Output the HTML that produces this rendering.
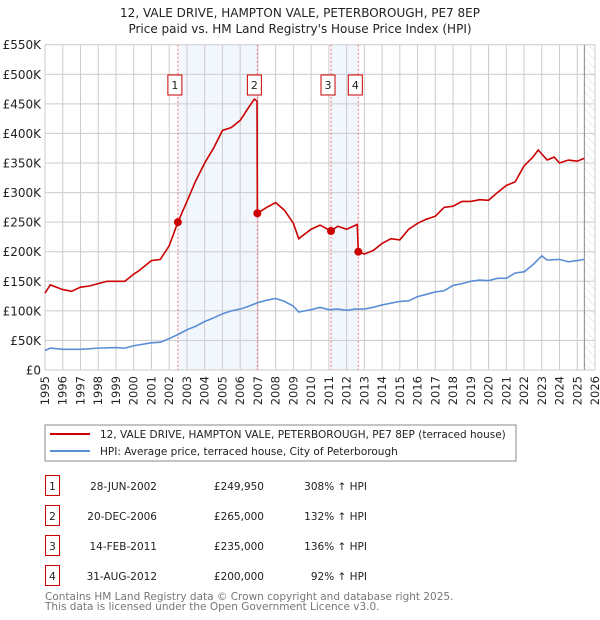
<!DOCTYPE html>
<html><head><meta charset="utf-8"><style>
body{margin:0;background:#fff;}
svg{display:block;font-family:"DejaVu Sans","Liberation Sans",sans-serif;}
</style></head><body>
<svg id="c" width="600" height="620" viewBox="0 0 600 620">
<defs><pattern id="hatch" width="6" height="6" patternUnits="userSpaceOnUse" patternTransform="rotate(-45)"><line x1="0" y1="0" x2="0" y2="6" stroke="#ccc" stroke-width="0.7"/></pattern></defs>
<text x="300" y="17" text-anchor="middle" font-size="12" fill="#222">12, VALE DRIVE, HAMPTON VALE, PETERBOROUGH, PE7 8EP</text>
<text x="300" y="33" text-anchor="middle" font-size="12" fill="#222">Price paid vs. HM Land Registry's House Price Index (HPI)</text>
<g id="plot"></g>
<rect x="45" y="425" width="471" height="36" fill="#fff" stroke="#888"/>
<line x1="50" y1="434" x2="90" y2="434" stroke="#cc0000" stroke-width="2"/>
<text x="100" y="438" font-size="10.5" fill="#222">12, VALE DRIVE, HAMPTON VALE, PETERBOROUGH, PE7 8EP (terraced house)</text>
<line x1="50" y1="451" x2="90" y2="451" stroke="#5b8fd4" stroke-width="2"/>
<text x="100" y="455" font-size="10.5" fill="#222">HPI: Average price, terraced house, City of Peterborough</text>
<g id="table"></g>
<text x="45" y="600" font-size="10.5" fill="#777">Contains HM Land Registry data © Crown copyright and database right 2025.</text>
<text x="45" y="610" font-size="10.5" fill="#777">This data is licensed under the Open Government Licence v3.0.</text>
</svg>
<script>
const hpiYears=[1995,1995.3,1996,1997,1998,1999,1999.5,2000,2001,2001.5,2002,2002.5,2003,2003.5,2004,2004.5,2005,2005.5,2006,2006.5,2007,2007.5,2008,2008.5,2009,2009.3,2010,2010.5,2011,2011.5,2012,2012.5,2013,2013.5,2014,2015,2015.5,2016,2016.5,2017,2017.5,2018,2018.5,2019,2019.5,2020,2020.5,2021,2021.5,2022,2022.5,2023,2023.3,2024,2024.5,2025,2025.4];
const hpiValues=[33,37,35,35,37,38,37,41,46,47,53,60,68,74,82,88,95,100,103,108,114,118,121,116,108,98,102,106,102,103,101,103,103,106,110,116,117,124,128,132,134,143,146,150,152,151,155,155,164,166,178,193,186,187,183,185,187];
const redYears=[1995,1995.3,1996,1996.5,1997,1997.5,1998,1998.5,1999,1999.5,2000,2000.3,2001,2001.5,2002,2002.49,2003,2003.5,2004,2004.5,2005,2005.5,2006,2006.5,2006.8,2006.95,2006.97,2007.5,2008,2008.5,2009,2009.3,2010,2010.5,2011.12,2011.5,2012,2012.6,2012.66,2013,2013.5,2014,2014.5,2015,2015.5,2016,2016.5,2017,2017.5,2018,2018.5,2019,2019.5,2020,2020.5,2021,2021.5,2022,2022.5,2022.8,2023.3,2023.7,2024,2024.5,2025,2025.4];
const redValues=[130,144,136,133,140,142,146,150,150,150,162,168,185,187,210,250,285,320,350,375,405,410,422,445,458,455,265,275,283,270,248,222,238,245,235,243,238,246,200,196,202,214,222,220,238,248,255,260,275,277,285,285,288,287,300,312,318,345,360,372,355,360,350,355,353,358];
const saleYears=[2002.49,2006.97,2011.12,2012.66];
const saleValues=[249.95,265,235,200];
const saleLabels=["1","2","3","4"];
const saleDates=["28-JUN-2002","20-DEC-2006","14-FEB-2011","31-AUG-2012"];
const salePrices=["£249,950","£265,000","£235,000","£200,000"];
const saleHpi=["308% ↑ HPI","132% ↑ HPI","136% ↑ HPI","92% ↑ HPI"];
const yTicks=[0,50,100,150,200,250,300,350,400,450,500,550];
const yTickLabels=["£0","£50K","£100K","£150K","£200K","£250K","£300K","£350K","£400K","£450K","£500K","£550K"];
const xTicks=[1995,1996,1997,1998,1999,2000,2001,2002,2003,2004,2005,2006,2007,2008,2009,2010,2011,2012,2013,2014,2015,2016,2017,2018,2019,2020,2021,2022,2023,2024,2025,2026];
const dataEnd=2025.4;

const L=45,R=595,T=44.7,B=370;
const X=v=>L+(v-1995)/31*(R-L);
const Y=v=>B-v/550*(B-T);
const NS="http://www.w3.org/2000/svg";
function mk(tag,attrs,parent,text){const e=document.createElementNS(NS,tag);for(const k in attrs)e.setAttribute(k,attrs[k]);if(text!==undefined)e.textContent=text;parent.appendChild(e);return e;}
const g=document.getElementById('plot');
for(let i=0;i<4;i+=2){const r=mk('rect',{x:X(saleYears[i]),y:T,width:X(saleYears[i+1])-X(saleYears[i]),height:B-T,fill:'#f2f6fd'},g);

}
const hr=mk('rect',{x:X(dataEnd),y:T,width:R-X(dataEnd),height:B-T,fill:'url(#hatch)'},g);


xTicks.forEach((t,i)=>{const l=mk('line',{x1:X(t),x2:X(t),y1:T,y2:B,stroke:'#ccc','stroke-width':1},g);


const tx=mk('text',{x:0,y:0,transform:`translate(${X(t)+4},${B+6}) rotate(-90)`,'text-anchor':'end','font-size':11.5,fill:'#222'},g,String(t));

});
yTicks.forEach((t,i)=>{const l=mk('line',{x1:L,x2:R,y1:Y(t),y2:Y(t),stroke:'#ccc','stroke-width':1},g);


const tx=mk('text',{x:L-4,y:Y(t)+4.5,'text-anchor':'end','font-size':12,fill:'#222'},g,yTickLabels[i]);

});
const el=mk('line',{x1:X(dataEnd),x2:X(dataEnd),y1:T,y2:B,stroke:'#888','stroke-width':1},g);


saleYears.forEach((s,i)=>{const l=mk('line',{x1:X(s),x2:X(s),y1:T,y2:B,stroke:'#f07070','stroke-width':1,'stroke-dasharray':'2,2'},g);


const bx=mk('rect',{x:X(s)-10,y:75,width:14,height:20,fill:'#fff',stroke:'#cc0000'},g);


const tx=mk('text',{x:X(s)-3,y:89,'text-anchor':'middle','font-size':11,fill:'#222'},g,saleLabels[i]);

});
const hp=mk('polyline',{points:hpiYears.map((y,i)=>X(y)+','+Y(hpiValues[i])).join(' '),fill:'none',stroke:'#5b8fd4','stroke-width':1.6},g);


const rp=mk('polyline',{points:redYears.map((y,i)=>X(y)+','+Y(redValues[i])).join(' '),fill:'none',stroke:'#cc0000','stroke-width':1.6},g);


saleYears.forEach((s,i)=>{const c=mk('circle',{cx:X(s),cy:Y(saleValues[i]),r:4,fill:'#cc0000'},g);

});
const tb=document.getElementById('table');
saleLabels.forEach((lb,i)=>{const y0=475+i*30;
const b=mk('rect',{x:45.5,y:y0+0.5,width:14,height:20,fill:'#fff',stroke:'#cc0000'},tb);


const t1=mk('text',{x:52.5,y:y0+15,'text-anchor':'middle','font-size':10.5,fill:'#222'},tb,lb);


const t2=mk('text',{x:157,y:y0+15,'text-anchor':'end','font-size':10.5,fill:'#222'},tb,saleDates[i]);


const t3=mk('text',{x:264,y:y0+15,'text-anchor':'end','font-size':10.5,fill:'#222'},tb,salePrices[i]);


const t4=mk('text',{x:367,y:y0+15,'text-anchor':'end','font-size':10.5,fill:'#222'},tb,saleHpi[i]);

});
</script>
</body></html>
